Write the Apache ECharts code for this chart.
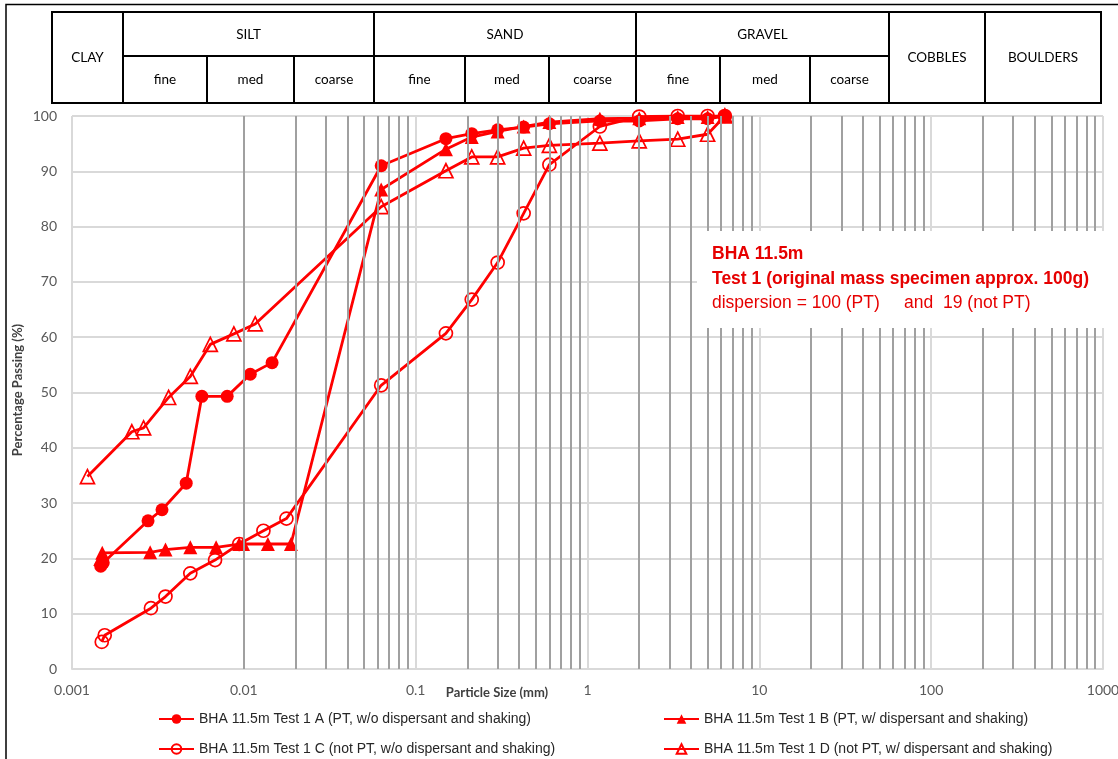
<!DOCTYPE html>
<html><head><meta charset="utf-8">
<script src="https://cdn.jsdelivr.net/npm/echarts@6/dist/echarts.min.js"></script>
<style>html,body{margin:0;padding:0;background:#fff}#c{width:1118px;height:759px}</style>
</head><body><div id="c"></div>
<script>
// ---------- DATA ----------
const sieveSize = [0.063, 0.15, 0.212, 0.3, 0.425, 0.6, 1.18, 2, 3.35, 5, 6.3];

const aHydSize = [0.00147, 0.00152, 0.00277, 0.00334, 0.00462, 0.0057, 0.0080, 0.0109, 0.0146];
const aHydPass = [18.6, 19.2, 26.8, 28.8, 33.6, 49.3, 49.3, 53.3, 55.4];
const aSievePass = [91.0, 95.9, 96.8, 97.5, 98.0, 98.6, 99.1, 99.1, 99.5, 99.5, 100];

const bHydSize = [0.00146, 0.0015, 0.00285, 0.0035, 0.00488, 0.0069, 0.0094, 0.0099, 0.0138, 0.0188];
const bHydPass = [19.9, 21.0, 21.1, 21.6, 22.0, 22.0, 22.6, 22.6, 22.6, 22.6];
const bSievePass = [86.7, 94.0, 96.2, 97.2, 98.1, 98.9, 99.5, 99.6, 99.8, 99.8, 100];

const cHydSize = [0.00149, 0.00155, 0.00288, 0.0035, 0.00488, 0.0068, 0.0094, 0.0130, 0.0177];
const cHydPass = [4.9, 6.1, 11.0, 13.1, 17.3, 19.7, 22.6, 25.0, 27.2];
const cSievePass = [51.3, 60.7, 66.8, 73.5, 82.4, 91.2, 98.1, 99.9, 100, 100, 100];

const dHydSize = [0.00123, 0.00223, 0.00261, 0.00365, 0.00488, 0.00638, 0.00875, 0.01165];
const dHydPass = [34.8, 42.9, 43.6, 49.1, 52.9, 58.7, 60.6, 62.4];
const dSievePass = [83.6, 90.1, 92.6, 92.6, 94.2, 94.7, 95.1, 95.5, 95.8, 96.7, 100];

const seriesNames = [
  'BHA 11.5m Test 1 A (PT, w/o dispersant and shaking)',
  'BHA 11.5m Test 1 B (PT, w/ dispersant and shaking)',
  'BHA 11.5m Test 1 C (not PT, w/o dispersant and shaking)',
  'BHA 11.5m Test 1 D (not PT, w/ dispersant and shaking)'
];

const xTickLabels = ['0.001', '0.01', '0.1', '1', '10', '100', '1000'];
const yTicks = [0, 10, 20, 30, 40, 50, 60, 70, 80, 90, 100];

const headerMain = ['CLAY', 'SILT', 'SAND', 'GRAVEL', 'COBBLES', 'BOULDERS'];
const headerSub = ['fine', 'med', 'coarse'];

const noteLines = [
  'BHA 11.5m',
  'Test 1 (original mass specimen approx. 100g)',
  'dispersion = 100 (PT)     and  19 (not PT)'
];
const xAxisTitle = 'Particle Size (mm)';
const yAxisTitle = 'Percentage Passing (%)';

// ---------- BUILD ----------
const RED = '#ff0000';
const FONT = 'Lato, "Liberation Sans", sans-serif';

// minor gridline positions 2..9 of each decade
const minorX = [];
for (let e = -3; e <= 2; e++) {
  for (let m = 2; m <= 9; m++) minorX.push(+(m * Math.pow(10, e)).toPrecision(3));
}

function mk(i, hs, hp, sp, symbol, filled) {
  const data = hs.map((x, k) => [x, hp[k]]).concat(sieveSize.map((x, k) => [x, sp[k]]));
  return {
    name: seriesNames[i], type: 'line', data,
    symbol, symbolSize: symbol === 'triangle' ? 14 : 13,
    showAllSymbol: true,
    lineStyle: { color: RED, width: 2.8 },
    itemStyle: filled ? { color: RED } : { color: 'rgba(255,255,255,0)', borderColor: RED, borderWidth: 1.7 },
    z: 3, animation: false, emphasis: { disabled: true }
  };
}

const series = [
  {
    name: 'grid', type: 'line', data: [[0.001, 0]], symbol: 'none', silent: true, z: 1,
    lineStyle: { width: 0 }, animation: false,
    markLine: {
      silent: true, symbol: ['none', 'none'], label: { show: false }, animation: false,
      lineStyle: { color: '#a0a0a0', width: 2, type: 'solid' },
      emphasis: { disabled: true },
      data: minorX.map(v => ({ xAxis: v }))
    }
  },
  mk(0, aHydSize, aHydPass, aSievePass, 'circle', true),
  mk(1, bHydSize, bHydPass, bSievePass, 'triangle', true),
  mk(2, cHydSize, cHydPass, cSievePass, 'circle', false),
  mk(3, dHydSize, dHydPass, dSievePass, 'triangle', false)
];

// header table graphics
const mainEdges = [52, 123, 374, 636, 889, 985, 1101];
const subEdges = { 1: [123, 207, 294, 374], 2: [374, 465, 549, 636], 3: [636, 720, 810, 889] };
const T0 = 12, TM = 56, T1 = 103;
const g = [];
function rect(x0, y0, x1, y1) {
  g.push({ type: 'rect', z: 100, shape: { x: x0, y: y0, width: x1 - x0, height: y1 - y0 },
    style: { fill: '#fff', stroke: '#000', lineWidth: 2 } });
}
function txt(s, x, y, font, fill, align, rot) {
  g.push({ type: 'text', z: 101, x, y, rotation: rot || 0,
    style: { text: s, font, fill, align: align || 'center', verticalAlign: 'middle' } });
}
headerMain.forEach((lab, i) => {
  const x0 = mainEdges[i], x1 = mainEdges[i + 1];
  if (subEdges[i]) {
    rect(x0, T0, x1, TM);
    txt(lab, (x0 + x1) / 2, 35, '13.5px ' + FONT, '#000');
    const se = subEdges[i];
    headerSub.forEach((s, k) => {
      rect(se[k], TM, se[k + 1], T1);
      txt(s, (se[k] + se[k + 1]) / 2, 80, '13.5px ' + FONT, '#000');
    });
  } else {
    rect(x0, T0, x1, T1);
    txt(lab, (x0 + x1) / 2, 58, '13.5px ' + FONT, '#000');
  }
});
// outer frame
g.push({ type: 'polyline', z: 100, shape: { points: [[6, 770], [6, 4.5], [1125, 4.5]] },
  style: { stroke: '#000', lineWidth: 1.5, fill: null } });
// annotation box
g.push({ type: 'rect', z: 50, shape: { x: 697, y: 231, width: 410, height: 97 }, style: { fill: '#fff' } });
txt(noteLines[0], 712, 254, 'bold 17.5px "Liberation Sans", sans-serif', '#e60000', 'left');
txt(noteLines[1], 712, 279, 'bold 17.5px "Liberation Sans", sans-serif', '#e60000', 'left');
txt(noteLines[2], 712, 303, '17.5px "Liberation Sans", sans-serif', '#e60000', 'left');
// axis titles
txt(xAxisTitle, 497, 693, 'bold 13px ' + FONT, '#404040');
txt(yAxisTitle, 18, 390, 'bold 13px ' + FONT, '#404040', 'center', Math.PI / 2);

const legendPos = [[158, 712], [663, 712], [158, 742], [663, 742]];
const legends = seriesNames.map((n, i) => ({
  orient: 'horizontal', left: legendPos[i][0], top: legendPos[i][1],
  itemWidth: 35, itemHeight: 12, itemGap: 5, padding: 0,
  textStyle: { fontSize: 14, color: '#262626', fontFamily: '"Liberation Sans", sans-serif' },
  data: [n], selectedMode: false
}));

const option = {
  backgroundColor: '#fff',
  animation: false,
  grid: { left: 72, right: 15, top: 116, bottom: 90, containLabel: false, outerBoundsMode: 'none' },
  xAxis: {
    type: 'log', logBase: 10, min: 0.001, max: 1000,
    axisLine: { show: true, lineStyle: { color: '#d9d9d9', width: 2 } },
    axisTick: { show: false },
    axisLabel: { margin: 14, fontSize: 14, color: '#595959', fontFamily: FONT,
      formatter: (v, i) => xTickLabels[i] },
    splitLine: { show: true, lineStyle: { color: '#d9d9d9', width: 2 } }
  },
  yAxis: {
    type: 'value', min: 0, max: 100, interval: 10,
    axisLine: { show: false }, axisTick: { show: false },
    axisLabel: { margin: 15, fontSize: 14, color: '#595959', fontFamily: FONT,
      formatter: v => String(yTicks[yTicks.indexOf(v)]) },
    splitLine: { show: true, lineStyle: { color: '#d9d9d9', width: 2 } }
  },
  legend: legends,
  graphic: g,
  series
};
const chart = echarts.init(document.getElementById('c'), null, { renderer: 'canvas' });
chart.setOption(option);
</script></body></html>
